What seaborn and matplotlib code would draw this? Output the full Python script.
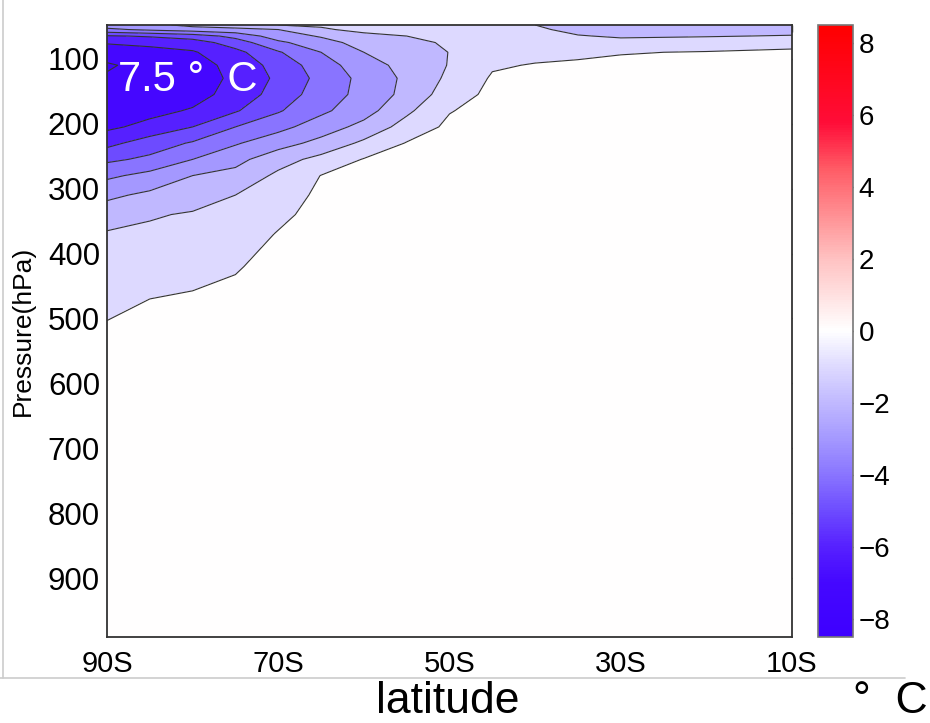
import numpy as np
import pandas as pd
import matplotlib
matplotlib.use("Agg")
import matplotlib.pyplot as plt
import seaborn as sns
from matplotlib.colors import Normalize, LinearSegmentedColormap
from matplotlib.cm import ScalarMappable
from matplotlib.lines import Line2D

# ---------------- data ----------------
latitudes = [-90, -85, -80, -75, -70, -65, -60, -55, -50, -45, -40, -35, -30, -20, -10]
lat_tick_values = [-90, -70, -50, -30, -10]
lat_tick_labels = ["90S", "70S", "50S", "30S", "10S"]
pressures = [48, 55, 65, 75, 90, 110, 130, 155, 180, 205, 230, 255, 280,
             310, 340, 370, 420, 470, 520, 600, 990]
pressure_ticks = [100, 200, 300, 400, 500, 600, 700, 800, 900]
cbar_ticks = [-8, -6, -4, -2, 0, 2, 4, 6, 8]

# temperature anomaly (deg C) profiles, one per latitude, top (48 hPa) to bottom
t_90s = [-3.0, -3.7, -5.6, -6.4, -7.1, -7.6, -7.4, -7.1, -6.9, -6.7, -5.8, -4.7, -3.7, -2.7, -2.0, -1.4, -1.1, -0.7, -0.4, -0.2, 0.0]
t_85s = [-2.8, -3.3, -5.4, -6.2, -6.9, -7.2, -7.2, -7.0, -6.8, -6.2, -5.0, -4.3, -3.2, -2.3, -1.6, -1.3, -0.9, -0.5, -0.3, -0.1, 0.0]
t_80s = [-2.2, -3.0, -5.0, -6.0, -6.6, -6.9, -7.0, -6.9, -6.4, -5.5, -4.4, -3.5, -2.5, -2.0, -1.4, -1.1, -0.8, -0.4, -0.3, -0.1, 0.0]
t_75s = [-1.9, -2.8, -4.2, -5.0, -5.8, -6.2, -6.3, -6.1, -5.6, -4.5, -3.6, -2.8, -2.2, -1.5, -1.2, -0.95, -0.55, -0.35, -0.2, -0.1, 0.0]
t_70s = [-1.5, -2.5, -3.0, -3.7, -4.6, -5.1, -5.3, -5.1, -4.6, -3.8, -2.9, -1.9, -1.3, -1.0, -0.7, -0.45, -0.3, -0.2, -0.1, 0.0, 0.0]
t_65s = [-1.4, -1.6, -2.4, -2.9, -3.5, -4.0, -4.2, -4.0, -3.7, -3.0, -2.2, -1.2, -0.48, -0.3, -0.2, -0.15, -0.1, -0.05, 0.0, 0.0, 0.0]
t_60s = [-1.2, -1.3, -1.7, -2.1, -2.5, -2.9, -3.2, -3.2, -2.9, -2.2, -1.3, -0.45, -0.3, -0.2, -0.1, -0.05, 0.0, 0.0, 0.0, 0.0, 0.0]
t_55s = [-1.1, -1.2, -1.5, -1.7, -2.0, -2.2, -2.3, -2.2, -1.7, -1.1, -0.45, -0.3, -0.2, -0.1, -0.05, 0.0, 0.0, 0.0, 0.0, 0.0, 0.0]
t_50s = [-1.0, -1.15, -1.3, -1.4, -1.48, -1.45, -1.3, -1.0, -0.55, -0.3, -0.2, -0.1, -0.05, 0.0, 0.0, 0.0, 0.0, 0.0, 0.0, 0.0, 0.0]
t_45s = [-1.0, -0.95, -0.9, -0.85, -0.75, -0.6, -0.4, -0.25, -0.15, -0.1, -0.05, 0.0, 0.0, 0.0, 0.0, 0.0, 0.0, 0.0, 0.0, 0.0, 0.0]
t_40s = [-1.5, -1.35, -1.2, -1.0, -0.75, -0.45, -0.3, -0.2, -0.1, 0.0, 0.0, 0.0, 0.0, 0.0, 0.0, 0.0, 0.0, 0.0, 0.0, 0.0, 0.0]
t_35s = [-1.9, -1.75, -1.45, -1.15, -0.7, -0.35, -0.2, -0.1, -0.05, 0.0, 0.0, 0.0, 0.0, 0.0, 0.0, 0.0, 0.0, 0.0, 0.0, 0.0, 0.0]
t_30s = [-2.0, -1.9, -1.6, -1.25, -0.55, -0.3, -0.15, -0.1, -0.05, 0.0, 0.0, 0.0, 0.0, 0.0, 0.0, 0.0, 0.0, 0.0, 0.0, 0.0, 0.0]
t_20s = [-2.0, -1.9, -1.55, -1.1, -0.45, -0.25, -0.15, -0.1, -0.05, 0.0, 0.0, 0.0, 0.0, 0.0, 0.0, 0.0, 0.0, 0.0, 0.0, 0.0, 0.0]
t_10s = [-2.0, -1.85, -1.45, -0.9, -0.3, -0.2, -0.1, -0.05, 0.0, 0.0, 0.0, 0.0, 0.0, 0.0, 0.0, 0.0, 0.0, 0.0, 0.0, 0.0, 0.0]

peak_label = "7.5 °  C"
x_label = "latitude"
y_label = "Pressure(hPa)"
unit_label = "°  C"

# ---------------- build table ----------------
profiles = [t_90s, t_85s, t_80s, t_75s, t_70s, t_65s, t_60s, t_55s, t_50s,
            t_45s, t_40s, t_35s, t_30s, t_20s, t_10s]
field = pd.DataFrame(np.column_stack(profiles), index=pressures, columns=latitudes)

# ---------------- style ----------------
sns.set_theme(style="white")
plt.rcParams["font.family"] = ["Liberation Sans", "DejaVu Sans"]
plt.rcParams["axes.unicode_minus"] = True
plt.rcParams["text.color"] = "black"
plt.rcParams["axes.labelcolor"] = "black"
plt.rcParams["xtick.color"] = "black"
plt.rcParams["ytick.color"] = "black"
plt.rcParams["contour.negative_linestyle"] = "solid"

vmin, vmax = -8.5, 8.5
levels = np.arange(-8.5, 9.0, 1.0)
cnodes = [
    (-8.5, (0.24, 0.00, 1.00)),
    (-7.0, (0.27, 0.03, 1.00)),
    (-6.0, (0.34, 0.13, 1.00)),
    (-5.0, (0.43, 0.30, 1.00)),
    (-4.0, (0.54, 0.46, 1.00)),
    (-3.0, (0.645, 0.60, 1.00)),
    (-2.0, (0.755, 0.725, 1.00)),
    (-1.0, (0.87, 0.855, 1.00)),
    (0.0, (1.00, 1.00, 1.00)),
    (1.0, (1.00, 0.88, 0.88)),
    (2.0, (1.00, 0.76, 0.76)),
    (3.0, (1.00, 0.60, 0.61)),
    (4.5, (1.00, 0.36, 0.40)),
    (5.8, (1.00, 0.05, 0.22)),
    (8.5, (1.00, 0.00, 0.00)),
]
cmap = LinearSegmentedColormap.from_list(
    "bwr_matlab", [((v - vmin) / (vmax - vmin), c) for v, c in cnodes], N=256)
norm = Normalize(vmin=vmin, vmax=vmax)

fig = plt.figure(figsize=(9.3, 7.23), dpi=100)
ax = fig.add_axes([107 / 930, 1 - 636.5 / 723, 685 / 930, 611.5 / 723])
cax = fig.add_axes([818 / 930, 1 - 636.5 / 723, 35 / 930, 611.5 / 723])

X = field.columns.values
Y = field.index.values
Z = field.values
ax.contourf(X, Y, Z, levels=levels, cmap=cmap, norm=norm)
ax.contour(X, Y, Z, levels=levels, colors="#333333", linewidths=0.8,
           linestyles="solid")

ax.set_xlim(-90, -10)
ax.set_ylim(990, 48)
ax.set_xticks(lat_tick_values)
ax.set_xticklabels(lat_tick_labels)
ax.set_yticks(pressure_ticks)
ax.tick_params(axis="both", direction="in", length=5, width=1, color="#333333",
               top=True, right=True, labelsize=21, labelcolor="black")
ax.tick_params(axis="x", pad=10)
ax.tick_params(axis="y", pad=5, labelsize=22.5)
for s in ax.spines.values():
    s.set_visible(True)
    s.set_color("#333333")
    s.set_linewidth(1.3)

ax.set_ylabel(y_label, fontsize=19, color="black")
ax.yaxis.set_label_coords(-0.105, 0.5)

ax.text(0.016, 0.892, peak_label, transform=ax.transAxes, color="white",
        fontsize=30, va="baseline", ha="left")

cb = fig.colorbar(ScalarMappable(norm=norm, cmap=cmap), cax=cax, ticks=cbar_ticks)
cb.ax.tick_params(direction="in", length=5, width=1, left=True, right=True,
                  labelsize=20, pad=4, color="#333333", labelcolor="black")
cb.outline.set_edgecolor("#777777")
cb.outline.set_linewidth(1.2)

fig.text(448 / 930, 1 - 713 / 723, x_label, fontsize=32, ha="center",
         va="baseline", color="black")
fig.text(853 / 930, 1 - 713 / 723, unit_label, fontsize=32, ha="left",
         va="baseline", color="black")

fig.add_artist(Line2D([3 / 930, 3 / 930], [1 - 678 / 723, 1], transform=fig.transFigure,
                      color="#cccccc", lw=1.2))
fig.add_artist(Line2D([0, 905 / 930], [1 - 678 / 723, 1 - 678 / 723],
                      transform=fig.transFigure, color="#cccccc", lw=1.2))

fig.savefig("out.png", dpi=100, facecolor="white")
